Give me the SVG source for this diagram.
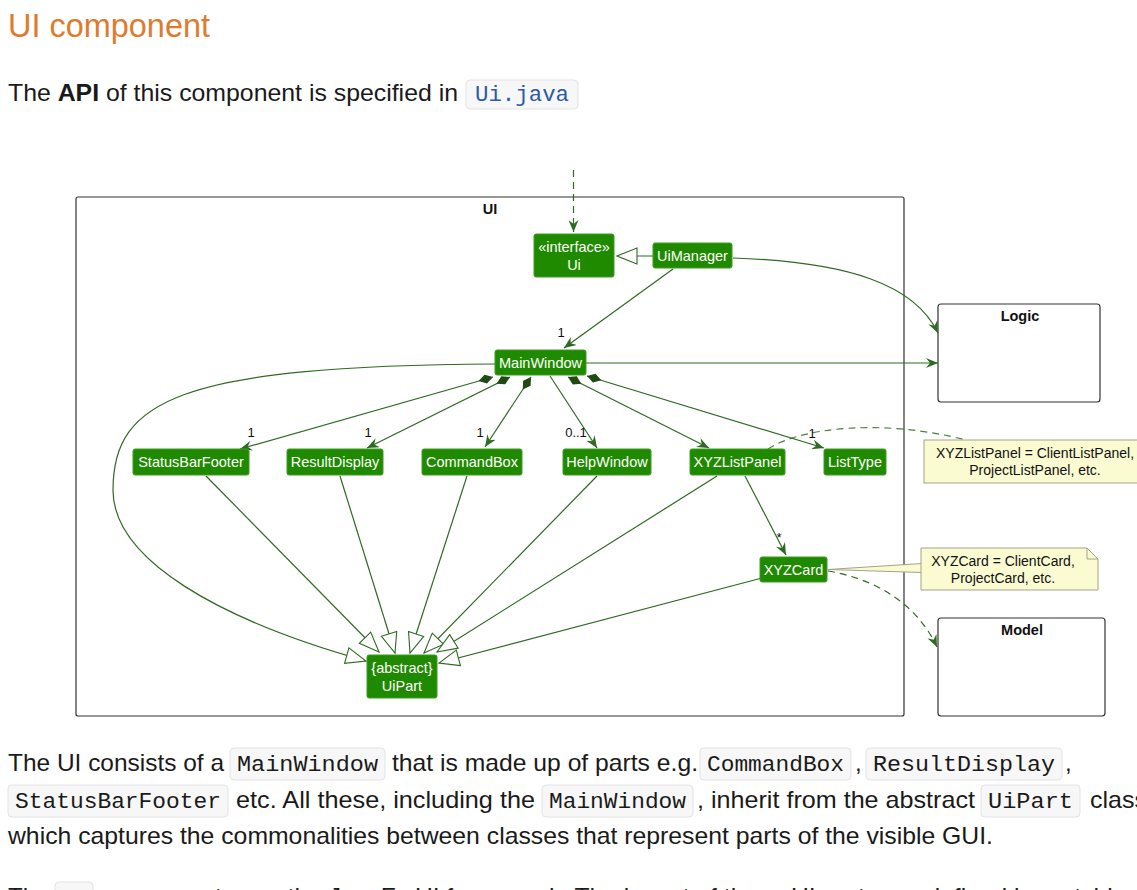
<svg xmlns="http://www.w3.org/2000/svg" width="1137" height="890" viewBox="0 0 1137 890">
<style>
.title{font-family:"Liberation Sans",Arial,sans-serif;font-size:33px;fill:#e07b2e}
.body{font-family:"Liberation Sans",Arial,sans-serif;font-size:24px;fill:#1a1a1a}
.code{font-family:"Liberation Mono","DejaVu Sans Mono",monospace;font-size:22px;fill:#1a1a1a}
.link{fill:#2b5aa6}
.cbox{fill:#f7f7f7;stroke:#e3e3e3;stroke-width:1}
.pkg{fill:#ffffff;stroke:#333333;stroke-width:1.2}
.pkgl{font-family:"Liberation Sans",Arial,sans-serif;font-size:14.5px;font-weight:bold;fill:#111;text-anchor:middle}
.node{fill:#1f8a00;stroke:#3f9c22;stroke-width:1}
.nt{font-family:"Liberation Sans",Arial,sans-serif;font-size:14.5px;fill:#ffffff;text-anchor:middle}
.lbl{font-family:"Liberation Sans",Arial,sans-serif;font-size:13px;fill:#111;text-anchor:middle}
.note{fill:#fbfbd2;stroke:#a3a38a;stroke-width:1}
.ntx{font-family:"Liberation Sans",Arial,sans-serif;font-size:14px;fill:#111;text-anchor:middle}
.e{fill:none;stroke:#2f6a22;stroke-width:1.2}
.d{stroke-dasharray:7,5}
</style>
<defs>
<marker id="arr" viewBox="0 0 12 10" refX="12" refY="5" markerWidth="12" markerHeight="10" markerUnits="userSpaceOnUse" orient="auto">
<path d="M0,0 L12,5 L0,10 L4,5 Z" fill="#2f6a22"/>
</marker>
<marker id="tri" viewBox="-1 -1 22 18" refX="20" refY="8" markerWidth="22" markerHeight="18" markerUnits="userSpaceOnUse" orient="auto">
<path d="M0,0 L20,8 L0,16 Z" fill="#ffffff" stroke="#2f6a22" stroke-width="1.1"/>
</marker>
<marker id="dia" viewBox="0 0 15 10" refX="0" refY="5" markerWidth="15" markerHeight="10" markerUnits="userSpaceOnUse" orient="auto">
<path d="M0,5 L7.5,0.5 L15,5 L7.5,9.5 Z" fill="#1f4a14"/>
</marker>
</defs>

<g id="page-text">
<text class="title" x="8" y="37" textLength="202" lengthAdjust="spacingAndGlyphs">UI component</text>
<text class="body" x="8" y="101" textLength="450" lengthAdjust="spacingAndGlyphs">The <tspan font-weight="bold">API</tspan> of this component is specified in</text>
<rect class="cbox" x="466" y="80" width="112" height="29" rx="4"/>
<text class="code link" x="475" y="101" textLength="94" lengthAdjust="spacingAndGlyphs">Ui.java</text>

<text class="body" x="8" y="771" textLength="216" lengthAdjust="spacingAndGlyphs">The UI consists of a</text>
<rect class="cbox" x="230" y="748" width="155" height="32" rx="4"/>
<text class="code" x="237" y="771" textLength="141" lengthAdjust="spacingAndGlyphs">MainWindow</text>
<text class="body" x="392" y="771" textLength="306" lengthAdjust="spacingAndGlyphs">that is made up of parts e.g.</text>
<rect class="cbox" x="700" y="748" width="151" height="32" rx="4"/>
<text class="code" x="707" y="771" textLength="137" lengthAdjust="spacingAndGlyphs">CommandBox</text>
<text class="body" x="855" y="771">,</text>
<rect class="cbox" x="866" y="748" width="196" height="32" rx="4"/>
<text class="code" x="873" y="771" textLength="182" lengthAdjust="spacingAndGlyphs">ResultDisplay</text>
<text class="body" x="1065" y="771">,</text>

<rect class="cbox" x="8" y="785" width="220" height="32" rx="4"/>
<text class="code" x="15" y="808" textLength="206" lengthAdjust="spacingAndGlyphs">StatusBarFooter</text>
<text class="body" x="236" y="808" textLength="299" lengthAdjust="spacingAndGlyphs">etc. All these, including the</text>
<rect class="cbox" x="542" y="785" width="151" height="32" rx="4"/>
<text class="code" x="549" y="808" textLength="137" lengthAdjust="spacingAndGlyphs">MainWindow</text>
<text class="body" x="697" y="808" textLength="278" lengthAdjust="spacingAndGlyphs">, inherit from the abstract</text>
<rect class="cbox" x="981" y="785" width="99" height="32" rx="4"/>
<text class="code" x="988" y="808" textLength="85" lengthAdjust="spacingAndGlyphs">UiPart</text>
<text class="body" x="1090" y="808" textLength="57" lengthAdjust="spacingAndGlyphs">class</text>

<text class="body" x="8" y="844" textLength="985" lengthAdjust="spacingAndGlyphs">which captures the commonalities between classes that represent parts of the visible GUI.</text>

<text class="body" x="8" y="905">The</text>
<rect class="cbox" x="55" y="882" width="38" height="32" rx="4"/>
<text class="code" x="62" y="905">UI</text>
<text class="body" x="100" y="905" textLength="1040" lengthAdjust="spacingAndGlyphs">component uses the JavaFx UI framework. The layout of these UI parts are defined in matching</text>
</g>

<g id="packages">
<g id="pkg-ui">
<rect class="pkg" x="76" y="197" width="828" height="519" rx="2"/>
<text class="pkgl" x="490" y="214">UI</text>
</g>
<g id="pkg-logic">
<rect class="pkg" x="938" y="304" width="162" height="98" rx="3"/>
<text class="pkgl" x="1020" y="321">Logic</text>
</g>
<g id="pkg-model">
<rect class="pkg" x="938" y="618" width="167" height="98" rx="3"/>
<text class="pkgl" x="1022" y="635">Model</text>
</g>
</g>

<g id="connectors">
<path class="e d" d="M573.5,170 L573.5,232" marker-end="url(#arr)"/>
<path class="e" d="M653,256 L617,256" marker-end="url(#tri)"/>
<path class="e" d="M673,269 L564,348" marker-end="url(#arr)"/>
<path class="e" d="M733,258 C850,262 915,285 938,333" marker-end="url(#arr)"/>
<path class="e" d="M586,363 L938,363" marker-end="url(#arr)"/>

<path class="e" d="M493,377 L240,449" marker-start="url(#dia)" marker-end="url(#arr)"/>
<path class="e" d="M510,377 L367,448" marker-start="url(#dia)" marker-end="url(#arr)"/>
<path class="e" d="M531,377 L485,447" marker-start="url(#dia)" marker-end="url(#arr)"/>
<path class="e" d="M550,376 L597,448" marker-end="url(#arr)"/>
<path class="e" d="M568,377 L709,448" marker-start="url(#dia)" marker-end="url(#arr)"/>
<path class="e" d="M587,376 L824,448" marker-start="url(#dia)" marker-end="url(#arr)"/>

<path class="e" d="M745,476 L786,555" marker-end="url(#arr)"/>
<path class="e d" d="M828,571 C870,578 915,600 937,647" marker-end="url(#arr)"/>

<path class="e" d="M495,364 C180,366 113,400 113,490 C113,560 220,620 366,661" marker-end="url(#tri)"/>
<path class="e" d="M206,476 L379,652" marker-end="url(#tri)"/>
<path class="e" d="M340,476 L395,653" marker-end="url(#tri)"/>
<path class="e" d="M467,476 L410,653" marker-end="url(#tri)"/>
<path class="e" d="M597,476 L424,653" marker-end="url(#tri)"/>
<path class="e" d="M717,476 L437,652" marker-end="url(#tri)"/>
<path class="e" d="M762,578 L439,663" marker-end="url(#tri)"/>

<path class="e d" d="M768,449 C800,428 880,418 966,440" stroke-opacity="0.85"/>
<polygon points="828,569.5 922,563.5 922,572.5" fill="#fbfbd2" stroke="#a3a38a" stroke-width="1"/>

<text class="lbl" x="561" y="337">1</text>
<text class="lbl" x="251" y="437">1</text>
<text class="lbl" x="368" y="437">1</text>
<text class="lbl" x="480" y="437">1</text>
<text class="lbl" x="576" y="437">0..1</text>
<text class="lbl" x="812" y="438">1</text>
<text class="lbl" x="779" y="542">*</text>
</g>

<g id="node-ui">
<rect class="node" x="534" y="234" width="80" height="43" rx="2"/>
<text class="nt" x="574" y="252">«interface»</text>
<text class="nt" x="574" y="270">Ui</text>
</g>
<g id="node-uimanager">
<rect class="node" x="653" y="243" width="79" height="25" rx="2"/>
<text class="nt" x="692.5" y="261">UiManager</text>
</g>
<g id="node-mainwindow">
<rect class="node" x="495" y="350" width="91" height="25" rx="2"/>
<text class="nt" x="540.5" y="368">MainWindow</text>
</g>
<g id="node-statusbarfooter">
<rect class="node" x="133" y="449" width="116" height="26" rx="2"/>
<text class="nt" x="191" y="467">StatusBarFooter</text>
</g>
<g id="node-resultdisplay">
<rect class="node" x="287" y="449" width="96" height="26" rx="2"/>
<text class="nt" x="335" y="467">ResultDisplay</text>
</g>
<g id="node-commandbox">
<rect class="node" x="422" y="449" width="100" height="26" rx="2"/>
<text class="nt" x="472" y="467">CommandBox</text>
</g>
<g id="node-helpwindow">
<rect class="node" x="563" y="449" width="88" height="26" rx="2"/>
<text class="nt" x="607" y="467">HelpWindow</text>
</g>
<g id="node-xyzlistpanel">
<rect class="node" x="690" y="449" width="95" height="26" rx="2"/>
<text class="nt" x="737.5" y="467">XYZListPanel</text>
</g>
<g id="node-listtype">
<rect class="node" x="824" y="449" width="62" height="26" rx="2"/>
<text class="nt" x="855" y="467">ListType</text>
</g>
<g id="node-xyzcard">
<rect class="node" x="760" y="557" width="67" height="25" rx="2"/>
<text class="nt" x="793.5" y="575">XYZCard</text>
</g>
<g id="node-uipart">
<rect class="node" x="367" y="655" width="70" height="43" rx="2"/>
<text class="nt" x="402" y="673">{abstract}</text>
<text class="nt" x="402" y="691">UiPart</text>
</g>

<g id="note-xyzlistpanel">
<rect class="note" x="924" y="440" width="220" height="43"/>
<text class="ntx" x="1035" y="458">XYZListPanel = ClientListPanel,</text>
<text class="ntx" x="1035" y="475">ProjectListPanel, etc.</text>
</g>
<g id="note-xyzcard">
<path class="note" d="M921,548 L1087,548 L1098,559 L1098,590 L921,590 Z"/>
<path d="M1087,548 L1087,559 L1098,559" fill="none" stroke="#a3a38a" stroke-width="1"/>
<text class="ntx" x="1003" y="566">XYZCard = ClientCard,</text>
<text class="ntx" x="1003" y="583">ProjectCard, etc.</text>
</g>
</svg>
